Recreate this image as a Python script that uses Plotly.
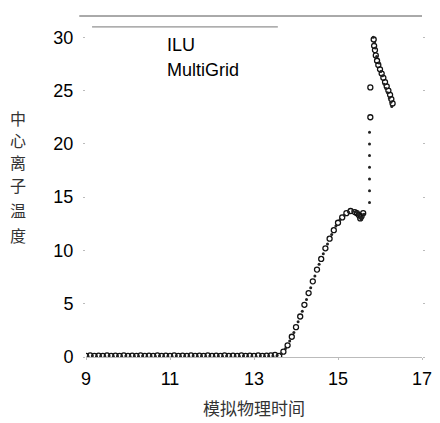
import plotly.graph_objects as go

# ---- data ----
ilu_x = [9.0, 9.1, 9.2, 9.3, 9.4, 9.5, 9.6, 9.7, 9.8, 9.9,
         10.0, 10.1, 10.2, 10.3, 10.4, 10.5, 10.6, 10.7, 10.8, 10.9,
         11.0, 11.1, 11.2, 11.3, 11.4, 11.5, 11.6, 11.7, 11.8, 11.9,
         12.0, 12.1, 12.2, 12.3, 12.4, 12.5, 12.6, 12.7, 12.8, 12.9,
         13.0, 13.1, 13.2, 13.3, 13.4, 13.5,
         13.6, 13.7, 13.8, 13.9, 14.0, 14.1, 14.2, 14.3, 14.4, 14.5,
         14.6, 14.7, 14.8, 14.9, 15.0, 15.1, 15.2, 15.3, 15.4, 15.45,
         15.5, 15.53, 15.56, 15.6,
         15.77, 15.77,
         15.85, 15.86, 15.88, 15.9, 15.93, 15.96, 16.0, 16.04, 16.08,
         16.12, 16.16, 16.2, 16.24, 16.27, 16.3]
ilu_y = [0.1, 0.15, 0.1, 0.12, 0.1, 0.15, 0.1, 0.12, 0.1, 0.15,
         0.1, 0.12, 0.1, 0.15, 0.1, 0.12, 0.1, 0.15, 0.1, 0.12,
         0.1, 0.15, 0.1, 0.12, 0.1, 0.15, 0.1, 0.12, 0.1, 0.15,
         0.1, 0.12, 0.1, 0.15, 0.1, 0.12, 0.1, 0.15, 0.1, 0.12,
         0.1, 0.15, 0.1, 0.12, 0.15, 0.2,
         0.1, 0.5, 1.1, 1.9, 2.8, 3.8, 4.9, 6.0, 7.1, 8.2,
         9.2, 10.2, 11.1, 11.9, 12.6, 13.1, 13.5, 13.7, 13.6, 13.5,
         13.3, 13.0, 13.2, 13.5,
         22.5, 25.3,
         29.8, 29.2, 28.8, 28.3, 27.8, 27.4, 27.0, 26.6, 26.2,
         25.8, 25.4, 25.0, 24.6, 24.2, 23.8]

mg_x = [9.05, 9.15, 9.25, 9.35, 9.45, 9.55, 9.65, 9.75, 9.85, 9.95,
        10.05, 10.15, 10.25, 10.35, 10.45, 10.55, 10.65, 10.75, 10.85, 10.95,
        11.05, 11.15, 11.25, 11.35, 11.45, 11.55, 11.65, 11.75, 11.85, 11.95,
        12.05, 12.15, 12.25, 12.35, 12.45, 12.55, 12.65, 12.75, 12.85, 12.95,
        13.05, 13.15, 13.25, 13.35, 13.45, 13.55,
        13.65, 13.75, 13.85, 13.95, 14.05, 14.15, 14.25, 14.35, 14.45, 14.55,
        14.65, 14.75, 14.85, 14.95, 15.05, 15.15, 15.25, 15.35, 15.42, 15.48,
        15.52, 15.55, 15.58, 15.62,
        15.75, 15.75, 15.75, 15.75, 15.75, 15.75, 15.75,
        15.84, 15.87, 15.89, 15.92, 15.98, 16.02, 16.06, 16.1, 16.14,
        16.18, 16.22, 16.26, 16.28]
mg_y = [0.05, 0.1, 0.05, 0.08, 0.05, 0.1, 0.05, 0.08, 0.05, 0.1,
        0.05, 0.08, 0.05, 0.1, 0.05, 0.08, 0.05, 0.1, 0.05, 0.08,
        0.05, 0.1, 0.05, 0.08, 0.05, 0.1, 0.05, 0.08, 0.05, 0.1,
        0.05, 0.08, 0.05, 0.1, 0.05, 0.08, 0.05, 0.1, 0.05, 0.08,
        0.05, 0.1, 0.05, 0.08, 0.1, 0.15,
        0.3, 0.8, 1.5, 2.3, 3.3, 4.3, 5.4, 6.5, 7.6, 8.7,
        9.7, 10.6, 11.5, 12.3, 12.9, 13.3, 13.6, 13.7, 13.6, 13.4,
        13.1, 12.9, 13.1, 13.4,
        14.5, 15.6, 16.7, 17.8, 18.9, 20.0, 21.1,
        30.0, 29.5, 29.0, 28.2, 27.6, 26.8, 26.4, 25.6, 25.2,
        24.8, 24.3, 23.9, 23.5]

series_names = ["ILU", "MultiGrid"]
x_ticks = [9, 11, 13, 15, 17]
y_ticks = [0, 5, 10, 15, 20, 25, 30]

x_title = "模拟物理时间"
y_title = "中心离子温度"

fig = go.Figure()
fig.add_trace(go.Scatter(x=ilu_x, y=ilu_y, mode="markers", name=series_names[0],
                         showlegend=False,
                         marker=dict(symbol="circle-open", size=5, color="#111111",
                                     line=dict(width=1.3))))
fig.add_trace(go.Scatter(x=mg_x, y=mg_y, mode="markers", name=series_names[1],
                         showlegend=False,
                         marker=dict(symbol="circle", size=3, color="#222222")))

# scanned frame fragments at top
fig.add_shape(type="line", xref="paper", yref="paper", x0=-0.02, x1=1.0, y0=1.0, y1=1.0,
              line=dict(color="#555555", width=1))
fig.add_shape(type="line", xref="paper", yref="paper", x0=0.018, x1=0.571, y0=0.968, y1=0.968,
              line=dict(color="#777777", width=1))

# legend texts (no symbols visible in the reference)
for name, yy in zip(series_names, [0.915, 0.842]):
    fig.add_annotation(text=name, xref="paper", yref="paper", x=0.235, y=yy,
                       xanchor="left", yanchor="middle", showarrow=False,
                       font=dict(family="Liberation Sans, Arial", size=18, color="black"))

# vertical y-axis title, one character per annotation
char_y = [0.700, 0.636, 0.571, 0.504, 0.431, 0.358]
for ch, yy in zip(y_title, char_y):
    fig.add_annotation(text=ch, xref="paper", yref="paper", x=-0.202, y=yy,
                       xanchor="center", yanchor="middle", showarrow=False,
                       font=dict(family="Noto Sans CJK SC", size=16, color="#333333"))

fig.update_layout(
    width=432, height=415,
    margin=dict(l=78, r=18, t=8, b=66),
    paper_bgcolor="white", plot_bgcolor="white",
    font=dict(family="Liberation Sans, Arial", size=18, color="black"),
    showlegend=False,
    xaxis=dict(range=[9, 17], tickvals=x_ticks, showgrid=False, zeroline=False,
               showline=True, linecolor="#bbbbbb", linewidth=1,
               ticks="outside", ticklen=2, tickcolor="#bbbbbb",
               ticklabelstandoff=3,
               title=dict(text=x_title, font=dict(family="Noto Sans CJK SC", size=17, color="#333333"),
                          standoff=15)),
    yaxis=dict(range=[0, 32], tickvals=y_ticks, showgrid=False, zeroline=False,
               showline=False, mirror="ticks",
               ticks="outside", ticklen=2, tickcolor="#bbbbbb",
               ticklabelstandoff=6),
)

fig.write_html("out.html")
